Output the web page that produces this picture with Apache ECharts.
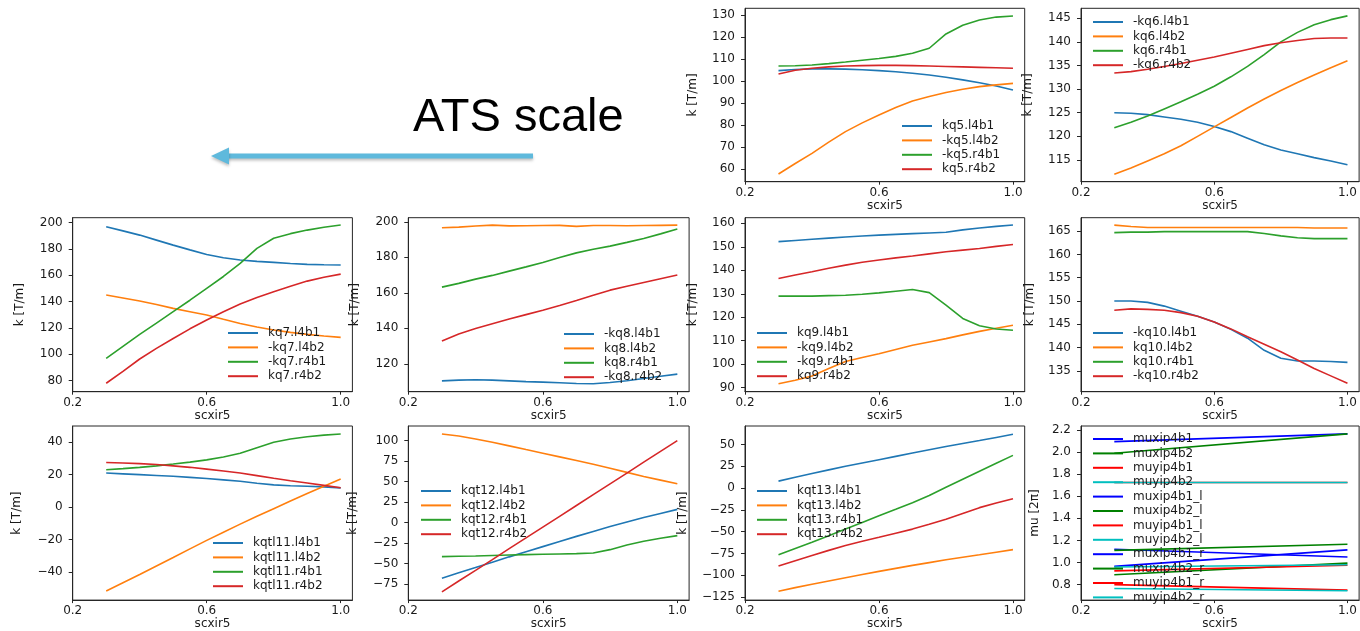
<!DOCTYPE html>
<html>
<head>
<meta charset="utf-8">
<script src="https://cdn.jsdelivr.net/npm/echarts@6/dist/echarts.min.js"></script>
<style>html,body{margin:0;padding:0;background:#fff}#c{width:1360px;height:631px}</style>
</head>
<body>
<div id="c"></div>
<script>
// ---------------- data ----------------
const scxir5 = [0.3, 0.35, 0.4, 0.45, 0.5, 0.55, 0.6, 0.65, 0.7, 0.75, 0.8, 0.85, 0.9, 0.95, 1.0];
const scxir5Mu = [0.3, 1.0];
const xTickLabels = [0.2, 0.6, 1.0];

const kq5Ticks = [60, 70, 80, 90, 100, 110, 120, 130];
const kq6Ticks = [115, 120, 125, 130, 135, 140, 145];
const kq7Ticks = [80, 100, 120, 140, 160, 180, 200];
const kq8Ticks = [120, 140, 160, 180, 200];
const kq9Ticks = [90, 100, 110, 120, 130, 140, 150, 160];
const kq10Ticks = [135, 140, 145, 150, 155, 160, 165];
const kqtl11Ticks = [-40, -20, 0, 20, 40];
const kqt12Ticks = [-75, -50, -25, 0, 25, 50, 75, 100];
const kqt13Ticks = [-125, -100, -75, -50, -25, 0, 25, 50];
const muTicks = [0.8, 1.0, 1.2, 1.4, 1.6, 1.8, 2.0, 2.2];

const kq5_l4b1 = [104.8, 105.3, 105.6, 105.6, 105.5, 105.2, 104.8, 104.3, 103.6, 102.8, 101.8, 100.6, 99.3, 97.8, 96.0];
const kq5_l4b2 = [57.7, 62.5, 67.1, 72.2, 77.0, 81.0, 84.6, 88.0, 91.0, 93.0, 94.8, 96.3, 97.5, 98.3, 99.0];
const kq5_r4b1 = [106.9, 107.0, 107.4, 108.0, 108.7, 109.5, 110.3, 111.3, 112.7, 115.0, 121.5, 125.5, 127.9, 129.2, 129.7];
const kq5_r4b2 = [103.3, 105.0, 105.9, 106.5, 106.9, 107.1, 107.2, 107.2, 107.1, 106.9, 106.7, 106.5, 106.3, 106.1, 105.9];

const kq6_l4b1 = [125.0, 124.9, 124.6, 124.1, 123.6, 123.0, 122.1, 121.0, 119.6, 118.2, 117.1, 116.3, 115.5, 114.8, 114.0];
const kq6_l4b2 = [112.0, 113.3, 114.8, 116.3, 118.0, 120.0, 122.0, 124.0, 126.0, 127.9, 129.7, 131.4, 133.0, 134.5, 136.0];
const kq6_r4b1 = [121.8, 123.0, 124.3, 125.8, 127.3, 128.9, 130.6, 132.6, 134.8, 137.3, 140.0, 142.0, 143.6, 144.7, 145.5];
const kq6_r4b2 = [133.4, 133.7, 134.2, 134.8, 135.4, 136.1, 136.8, 137.6, 138.4, 139.2, 139.8, 140.3, 140.7, 140.8, 140.8];

const kq7_l4b1 = [196.7, 193.6, 190.4, 186.6, 182.8, 179.2, 175.7, 173.2, 171.5, 170.5, 169.7, 168.9, 168.2, 167.9, 167.7];
const kq7_l4b2 = [144.9, 142.7, 140.4, 137.7, 134.8, 132.3, 129.8, 126.5, 123.4, 120.7, 118.4, 116.6, 115.1, 113.9, 112.8];
const kq7_r4b1 = [96.9, 106.0, 115.1, 123.6, 132.3, 141.0, 150.0, 159.0, 168.9, 180.3, 188.0, 191.5, 194.2, 196.3, 198.0];
const kq7_r4b2 = [78.0, 87.0, 96.4, 104.5, 112.0, 119.3, 126.0, 132.3, 138.1, 143.0, 147.4, 151.6, 155.5, 158.4, 160.8];

const kq8_l4b1 = [110.4, 110.8, 111.0, 110.8, 110.4, 110.0, 109.7, 109.3, 108.9, 108.8, 109.5, 110.5, 111.7, 113.0, 114.2];
const kq8_l4b2 = [196.6, 197.0, 197.6, 198.1, 197.7, 197.8, 197.9, 198.0, 197.4, 197.9, 197.9, 197.8, 197.9, 198.0, 198.1];
const kq8_r4b1 = [163.2, 165.3, 167.7, 169.8, 172.2, 174.6, 177.1, 179.9, 182.5, 184.5, 186.3, 188.4, 190.6, 193.2, 195.9];
const kq8_r4b2 = [132.8, 136.8, 139.9, 142.6, 145.2, 147.7, 150.2, 152.9, 155.7, 158.6, 161.5, 163.7, 165.8, 167.9, 170.0];

const kq9_l4b1 = [152.2, 152.7, 153.2, 153.7, 154.2, 154.6, 155.0, 155.3, 155.6, 155.9, 156.2, 157.2, 158.0, 158.7, 159.3];
const kq9_l4b2 = [91.7, 93.2, 95.0, 98.2, 101.2, 102.9, 104.5, 106.3, 108.1, 109.5, 110.9, 112.5, 114.0, 115.3, 116.6];
const kq9_r4b1 = [129.0, 129.0, 129.0, 129.2, 129.4, 129.8, 130.4, 131.1, 131.8, 130.5, 125.2, 119.5, 116.4, 115.0, 114.5];
const kq9_r4b2 = [136.5, 138.0, 139.4, 140.9, 142.2, 143.4, 144.4, 145.3, 146.1, 147.0, 147.9, 148.6, 149.3, 150.2, 151.0];

const kq10_l4b1 = [150.0, 150.0, 149.7, 148.9, 147.8, 146.7, 145.5, 143.9, 142.0, 139.4, 137.7, 137.1, 137.1, 137.0, 136.8];
const kq10_l4b2 = [166.3, 166.0, 165.8, 165.8, 165.8, 165.8, 165.8, 165.8, 165.8, 165.8, 165.8, 165.8, 165.7, 165.7, 165.7];
const kq10_r4b1 = [164.7, 164.8, 164.8, 164.9, 164.9, 164.9, 164.9, 164.9, 164.9, 164.5, 164.0, 163.6, 163.4, 163.4, 163.4];
const kq10_r4b2 = [148.0, 148.3, 148.2, 148.0, 147.5, 146.7, 145.5, 144.0, 142.3, 140.7, 139.1, 137.3, 135.5, 133.9, 132.3];

const kqtl11_l4b1 = [20.9, 20.4, 19.9, 19.4, 18.9, 18.2, 17.5, 16.7, 15.8, 14.6, 13.6, 13.1, 12.8, 12.4, 11.8];
const kqtl11_l4b2 = [-51.6, -46.5, -41.5, -36.2, -31.0, -25.7, -20.5, -15.5, -10.5, -5.7, -1.0, 3.7, 8.3, 12.8, 17.2];
const kqtl11_r4b1 = [22.9, 23.6, 24.4, 25.3, 26.4, 27.6, 29.0, 30.8, 33.1, 36.5, 39.8, 41.8, 43.2, 44.2, 44.9];
const kqtl11_r4b2 = [27.4, 27.1, 26.7, 26.1, 25.3, 24.4, 23.3, 22.1, 20.9, 19.3, 17.7, 16.2, 14.8, 13.3, 11.8];

const kqt12_l4b1 = [-68.0, -61.5, -55.0, -48.5, -42.0, -35.8, -29.5, -23.2, -17.0, -11.0, -5.0, 0.5, 6.0, 11.0, 16.0];
const kqt12_l4b2 = [108.1, 105.5, 102.0, 98.0, 93.5, 89.0, 84.6, 80.1, 75.6, 71.0, 66.3, 61.2, 56.2, 51.7, 47.2];
const kqt12_r4b1 = [-41.7, -41.3, -40.9, -40.3, -39.7, -39.3, -38.9, -38.5, -38.1, -37.2, -33.2, -27.5, -23.0, -19.3, -16.1];
const kqt12_r4b2 = [-84.8, -71.5, -58.5, -45.3, -32.0, -18.9, -5.7, 7.5, 20.7, 34.0, 47.2, 60.3, 73.6, 86.8, 100.0];

const kqt13_l4b1 = [8.0, 12.4, 16.7, 20.9, 25.0, 28.8, 32.6, 36.4, 40.2, 44.0, 47.7, 51.1, 54.5, 58.1, 61.7];
const kqt13_l4b2 = [-118.2, -114.1, -110.2, -106.4, -102.7, -99.1, -95.5, -92.0, -88.6, -85.4, -82.2, -79.3, -76.5, -73.5, -70.5];
const kqt13_r4b1 = [-76.5, -69.3, -62.1, -54.5, -47.0, -39.4, -31.8, -24.3, -16.7, -8.5, 0.9, 10.1, 19.3, 28.4, 37.5];
const kqt13_r4b2 = [-89.4, -83.2, -77.3, -71.4, -65.9, -61.0, -56.4, -51.7, -47.0, -41.5, -35.6, -29.0, -22.4, -17.0, -12.1];

const muxip4b1 = [2.095, 2.165];
const muxip4b2 = [1.99, 2.165];
const muyip4b1 = [1.725, 1.725];
const muyip4b2 = [1.725, 1.725];
const muxip4b1_l = [1.12, 1.05];
const muxip4b2_l = [1.11, 1.165];
const muyip4b1_l = [0.80, 0.75];
const muyip4b2_l = [0.765, 0.745];
const muxip4b1_r = [0.965, 1.115];
const muxip4b2_r = [0.89, 0.995];
const muyip4b1_r = [0.925, 0.975];
const muyip4b2_r = [0.96, 0.98];

// ---------------- layout / styles ----------------
const TAB = ['#1f77b4', '#ff7f0e', '#2ca02c', '#d62728'];
const BASIC = ['#0000ff', '#008000', '#ff0000', '#00bfbf'];
const TXT = '#1a1a1a';
const FONT = 'DejaVu Sans';

const panels = [
  {g:[745, 8.3, 279.7, 173.4], y:[54.2, 133.2], t:kq5Ticks, yn:'k [T/m]', yg:46, xg:17, lg:[902, 120], xs:scxir5, c:TAB,
   s:[['kq5.l4b1', kq5_l4b1], ['-kq5.l4b2', kq5_l4b2], ['-kq5.r4b1', kq5_r4b1], ['kq5.r4b2', kq5_r4b2]]},
  {g:[1081, 8.3, 280.8, 173.4], y:[110.4, 147.1], t:kq6Ticks, yn:'k [T/m]', yg:47, xg:17, lg:[1093, 16], xs:scxir5, c:TAB,
   s:[['-kq6.l4b1', kq6_l4b1], ['kq6.l4b2', kq6_l4b2], ['kq6.r4b1', kq6_r4b1], ['-kq6.r4b2', kq6_r4b2]]},
  {g:[72.7, 217.7, 279.7, 174], y:[71.6, 203.6], t:kq7Ticks, yn:'k [T/m]', yg:47, xg:17, lg:[228, 327], xs:scxir5, c:TAB,
   s:[['kq7.l4b1', kq7_l4b1], ['-kq7.l4b2', kq7_l4b2], ['-kq7.r4b1', kq7_r4b1], ['kq7.r4b2', kq7_r4b2]]},
  {g:[408.3, 217.7, 280.8, 174], y:[104.3, 202.3], t:kq8Ticks, yn:'k [T/m]', yg:47, xg:17, lg:[564, 328], xs:scxir5, c:TAB,
   s:[['-kq8.l4b1', kq8_l4b1], ['kq8.l4b2', kq8_l4b2], ['kq8.r4b1', kq8_r4b1], ['-kq8.r4b2', kq8_r4b2]]},
  {g:[745, 217.7, 279.7, 174], y:[88.3, 162.4], t:kq9Ticks, yn:'k [T/m]', yg:46, xg:17, lg:[757, 327], xs:scxir5, c:TAB,
   s:[['kq9.l4b1', kq9_l4b1], ['-kq9.l4b2', kq9_l4b2], ['-kq9.r4b1', kq9_r4b1], ['kq9.r4b2', kq9_r4b2]]},
  {g:[1081, 217.7, 280.8, 174], y:[130.5, 167.9], t:kq10Ticks, yn:'k [T/m]', yg:45, xg:17, lg:[1093, 327], xs:scxir5, c:TAB,
   s:[['-kq10.l4b1', kq10_l4b1], ['kq10.l4b2', kq10_l4b2], ['kq10.r4b1', kq10_r4b1], ['-kq10.r4b2', kq10_r4b2]]},
  {g:[72.7, 426, 279.7, 175.7], y:[-57.2, 49.8], t:kqtl11Ticks, yn:'k [T/m]', yg:50, xg:16, lg:[213, 537], xs:scxir5, c:TAB,
   s:[['kqtl11.l4b1', kqtl11_l4b1], ['kqtl11.l4b2', kqtl11_l4b2], ['kqtl11.r4b1', kqtl11_r4b1], ['kqtl11.r4b2', kqtl11_r4b2]]},
  {g:[408.3, 426, 280.8, 175], y:[-94.8, 117.8], t:kqt12Ticks, yn:'k [T/m]', yg:49, xg:16, lg:[421, 485], xs:scxir5, c:TAB,
   s:[['kqt12.l4b1', kqt12_l4b1], ['kqt12.l4b2', kqt12_l4b2], ['kqt12.r4b1', kqt12_r4b1], ['kqt12.r4b2', kqt12_r4b2]]},
  {g:[745, 426, 279.7, 175.7], y:[-128.4, 71.2], t:kqt13Ticks, yn:'k [T/m]', yg:56, xg:16, lg:[757, 485], xs:scxir5, c:TAB,
   s:[['kqt13.l4b1', kqt13_l4b1], ['kqt13.l4b2', kqt13_l4b2], ['kqt13.r4b1', kqt13_r4b1], ['kqt13.r4b2', kqt13_r4b2]]},
  {g:[1081, 426, 280.8, 175.7], y:[0.66, 2.236], t:muTicks, yn:'mu [2π]', yg:40, xg:16, lg:[1093, 433], xs:scxir5Mu, c:BASIC.concat(BASIC, BASIC), dec:1,
   s:[['muxip4b1', muxip4b1], ['muxip4b2', muxip4b2], ['muyip4b1', muyip4b1], ['muyip4b2', muyip4b2],
      ['muxip4b1_l', muxip4b1_l], ['muxip4b2_l', muxip4b2_l], ['muyip4b1_l', muyip4b1_l], ['muyip4b2_l', muyip4b2_l],
      ['muxip4b1_r', muxip4b1_r], ['muxip4b2_r', muxip4b2_r], ['muyip4b1_r', muyip4b1_r], ['muyip4b2_r', muyip4b2_r]]}
];

const grid = [], xAxis = [], yAxis = [], series = [], legend = [];
panels.forEach((p, i) => {
  grid.push({left: p.g[0], top: p.g[1], width: p.g[2], height: p.g[3], show: true,
    borderColor: '#262626', borderWidth: 1, backgroundColor: 'transparent', containLabel: false});
  xAxis.push({type: 'value', gridIndex: i, min: 0.2, max: 1.035,
    name: 'scxir5', nameLocation: 'middle', nameGap: p.xg,
    nameTextStyle: {fontSize: 12, color: TXT, fontFamily: FONT},
    axisLine: {show: true, onZero: false, lineStyle: {color: '#262626', width: 1}},
    axisTick: {show: true, length: 3, customValues: xTickLabels, lineStyle: {color: '#262626'}},
    axisLabel: {show: true, customValues: xTickLabels, margin: 5, fontSize: 12, color: TXT, fontFamily: FONT,
      formatter: v => v.toFixed(1)},
    splitLine: {show: false}});
  yAxis.push({type: 'value', gridIndex: i, min: p.y[0], max: p.y[1],
    name: p.yn, nameLocation: 'middle', nameGap: p.yg, nameRotate: 90,
    nameTextStyle: {fontSize: 12, color: TXT, fontFamily: FONT},
    axisLine: {show: true, onZero: false, lineStyle: {color: '#262626', width: 1}},
    axisTick: {show: true, length: 4, customValues: p.t, lineStyle: {color: '#262626'}},
    axisLabel: {show: true, customValues: p.t, margin: 10, fontSize: 12, color: TXT, fontFamily: FONT,
      formatter: v => (p.dec ? v.toFixed(p.dec) : String(Math.round(v))).replace('-', '\u2212')},
    splitLine: {show: false}});
  const names = [];
  p.s.forEach((s, k) => {
    names.push(s[0]);
    series.push({type: 'line', name: s[0], xAxisIndex: i, yAxisIndex: i,
      data: p.xs.map((x, j) => [x, s[1][j]]),
      showSymbol: false, symbol: 'none', smooth: false, silent: true,
      color: p.c[k], lineStyle: {width: 1.6, color: p.c[k]}});
  });
  legend.push({data: names, orient: 'vertical', left: p.lg[0], top: p.lg[1], padding: 0,
    itemGap: 2.4, itemWidth: 30, itemHeight: 2, icon: 'rect', selectedMode: false,
    textStyle: {fontSize: 12, color: TXT, fontFamily: FONT, padding: [0, 0, 0, 5]}});
});

const chart = echarts.init(document.getElementById('c'));
chart.setOption({
  animation: false,
  backgroundColor: '#ffffff',
  textStyle: {fontFamily: FONT},
  grid, xAxis, yAxis, series, legend,
  graphic: [
    {type: 'text', left: 413, top: 95, style: {text: 'ATS scale', font: '47px "Liberation Sans", Arial, sans-serif', fill: '#000'}},
    {type: 'line', shape: {x1: 226, y1: 156, x2: 533, y2: 156},
      style: {stroke: '#5fb9dc', lineWidth: 5, shadowBlur: 3, shadowColor: 'rgba(0,0,0,0.25)', shadowOffsetY: 2}},
    {type: 'polygon', shape: {points: [[211, 156], [229, 147.5], [229, 164.5]]},
      style: {fill: '#5fb9dc', shadowBlur: 3, shadowColor: 'rgba(0,0,0,0.25)', shadowOffsetY: 2}}
  ]
});
</script>
</body>
</html>
